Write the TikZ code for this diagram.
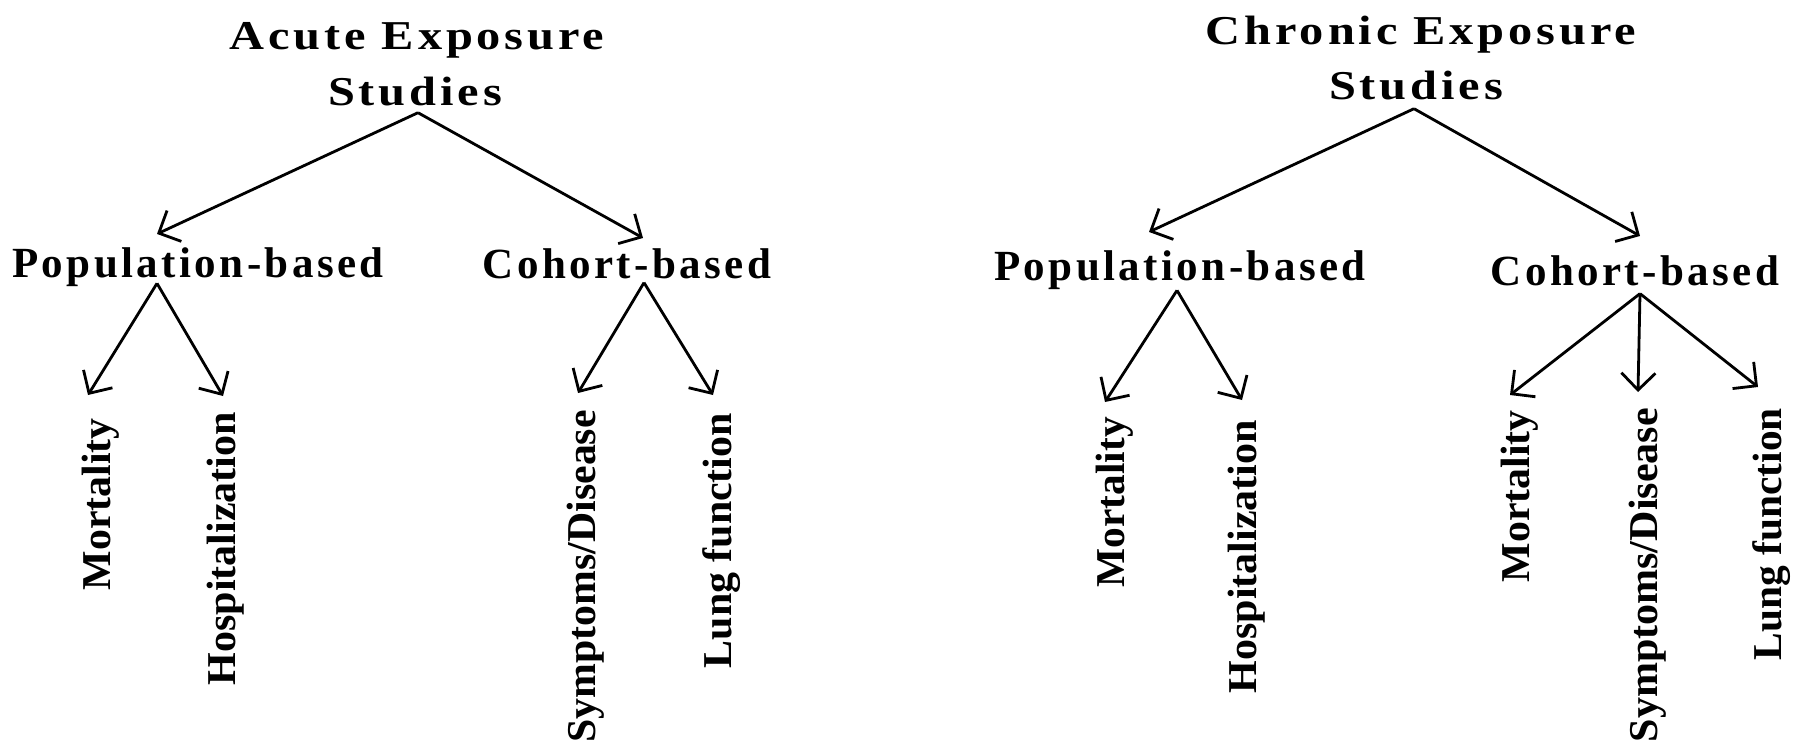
\documentclass[tikz,border=0pt]{standalone}
\usepackage{graphicx}
\usepackage{fontspec}
\newfontfamily\ttlfont{Liberation Serif}[LetterSpace=8]
\newfontfamily\lblfont{Liberation Serif}
\usetikzlibrary{arrows.meta}
\tikzset{
  head/.style={font=\ttlfont\bfseries\fontsize{41}{48}\selectfont, inner sep=0pt, anchor=base},
  ttl/.style={font=\ttlfont\bfseries\fontsize{43}{50}\selectfont, inner sep=0pt, anchor=base},
  lbl/.style={font=\lblfont\bfseries\fontsize{41}{46}\selectfont, inner sep=0pt, rotate=90, anchor=base east},
  arr/.style={-{Straight Barb[length=17pt,width=34pt]}, line width=2.8pt}
}
\newcommand{\hw}[1]{\scalebox{1.18}[1]{#1}}
\newcommand{\lab}[2]{\resizebox{#1pt}{\height}{#2}}
\begin{document}
\begin{tikzpicture}[x=1pt,y=-1pt]
\useasboundingbox[fill=white] (0,0) rectangle (1794,745);
% Acute tree
\node[head] (acA) at (417,49) {\hw{Acute Exposure}};
\node[head] (stA) at (415,105) {\hw{Studies}};
\node[ttl] (popA) at (198,277) {Population-based};
\node[ttl] (coA) at (627,278) {Cohort-based};
\node[lbl] (mortA) at (110,418) {\lab{172}{Mortality}};
\node[lbl] (hospA) at (235,412) {\lab{273}{Hospitalization}};
\node[lbl] (sympA) at (595,410) {\lab{332}{Symptoms/Disease}};
\node[lbl] (lungA) at (731,413) {\lab{255}{Lung function}};
% Chronic tree
\node[head] (chC) at (1421,44) {\hw{Chronic Exposure}};
\node[head] (stC) at (1416,99) {\hw{Studies}};
\node[ttl] (popC) at (1180,280) {Population-based};
\node[ttl] (coC) at (1635,285) {Cohort-based};
\node[lbl] (mortC) at (1124,417) {\lab{170}{Mortality}};
\node[lbl] (hospC) at (1256,420) {\lab{273}{Hospitalization}};
\node[lbl] (mortD) at (1529,410) {\lab{172}{Mortality}};
\node[lbl] (sympC) at (1657,408) {\lab{334}{Symptoms/Disease}};
\node[lbl] (lungC) at (1781,408) {\lab{252}{Lung function}};
% Acute connectors
\draw[arr] ([xshift=3pt,yshift=-7pt]stA.south) -- ([xshift=-41pt,yshift=13pt]popA.north);
\draw[arr] ([xshift=3pt,yshift=-7pt]stA.south) -- ([xshift=16pt,yshift=10pt]coA.north);
\draw[arr] ([xshift=-41pt,yshift=3pt]popA.south) -- ([xshift=-22pt,yshift=23pt]mortA.base east);
\draw[arr] ([xshift=-41pt,yshift=3pt]popA.south) -- ([xshift=-12pt,yshift=16pt]hospA.base east);
\draw[arr] ([xshift=17pt,yshift=-4pt]coA.south) -- ([xshift=-17pt,yshift=17pt]sympA.base east);
\draw[arr] ([xshift=17pt,yshift=-4pt]coA.south) -- ([xshift=-18pt,yshift=18pt]lungA.base east);
% Chronic connectors
\draw[arr] ([xshift=-2pt,yshift=-9pt]stC.south) -- ([xshift=-31pt,yshift=18pt]popC.north);
\draw[arr] ([xshift=-2pt,yshift=-9pt]stC.south) -- ([xshift=5pt,yshift=19pt]coC.north);
\draw[arr] ([xshift=-3pt,yshift=-1pt]popC.south) -- ([xshift=-19pt,yshift=15pt]mortC.base east);
\draw[arr] ([xshift=-3pt,yshift=-1pt]popC.south) -- ([xshift=-14pt,yshift=20pt]hospC.base east);
\draw[arr] ([xshift=5pt,yshift=-8pt]coC.south) -- ([xshift=-19pt,yshift=15pt]mortD.base east);
\draw[arr] ([xshift=5pt,yshift=-8pt]coC.south) -- ([xshift=-19pt,yshift=16pt]sympC.base east);
\draw[arr] ([xshift=5pt,yshift=-8pt]coC.south) -- ([xshift=-23pt,yshift=21pt]lungC.base east);
\end{tikzpicture}
\end{document}
